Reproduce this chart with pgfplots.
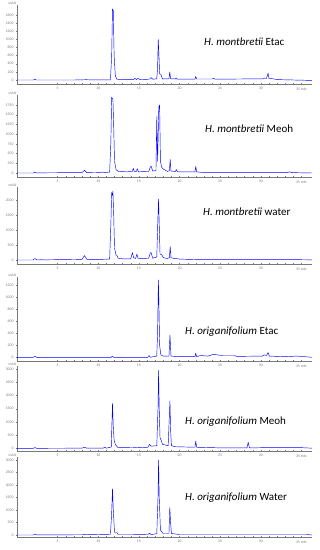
\documentclass[border=0pt]{standalone}
\usepackage{fontspec}
\setmainfont{Carlito}
\usepackage{pgfplots}
\pgfplotsset{compat=1.18}
\definecolor{trace}{RGB}{95,95,225}
\definecolor{axgray}{RGB}{120,120,120}
\pgfplotsset{
  chrom/.style={
    scale only axis, width=295pt, anchor=south west,
    xmin=0, xmax=36.3,
    axis lines=left, axis line style={-, axgray, line width=0.4pt},
    xtick={5,10,15,20,25,30,35},
    xticklabels={5,10,15,20,25,30,35 min},
    minor x tick num=4,
    tick style={axgray, line width=0.3pt},
    major tick length=2pt, minor tick length=1pt,
    tick label style={font=\fontsize{3.8}{4.4}\selectfont, text=axgray},
    xticklabel style={yshift=1pt},
    yticklabel style={xshift=1pt},
    /pgf/number format/assume math mode=true,
    /pgf/number format/1000 sep={},
    clip=false,
    every axis plot/.append style={trace, line width=0.45pt, no markers, line join=round},
  }
}
\newcommand{\mau}{\node[anchor=south east, font=\fontsize{3.8}{4.4}\selectfont, text=axgray, inner sep=0.5pt] at (rel axis cs:0,1) {mAU};}
\begin{document}
\begin{tikzpicture}
\useasboundingbox (0,0) rectangle (320pt,550pt);
% Panel 1
\begin{axis}[chrom, at={(17pt,466pt)}, height=79pt, ymin=-98, ymax=1846,
  ytick={0,200,400,600,800,1000,1200,1400,1600}]
\addplot coordinates {(0,0)(2.0,0)(2.2,20)(2.4,0)(7,0)(8.5,8)(9,5)(11.5,5)(11.65,600)(11.75,1750)(11.85,1700)(11.95,600)(12.1,100)(12.3,20)(13,10)(14.3,10)(14.5,40)(14.7,10)(14.9,50)(15.1,10)(16.3,20)(16.5,60)(16.7,20)(17.2,30)(17.3,300)(17.38,1000)(17.45,700)(17.55,150)(17.7,140)(17.9,30)(18.7,30)(18.8,200)(18.9,30)(19.5,30)(19.6,50)(19.7,20)(21.9,20)(22,90)(22.1,25)(24,25)(24.2,40)(24.4,20)(30.3,30)(30.5,50)(30.7,40)(30.9,170)(31.0,40)(31.5,30)(32,10)(36.3,-10)};
\mau
\end{axis}
% Panel 2
\begin{axis}[chrom, at={(17pt,373pt)}, height=82pt, ymin=-103, ymax=2007,
  ytick={0,250,500,750,1000,1250,1500,1750}]
\addplot coordinates {(0,0)(2.0,0)(2.2,25)(2.4,0)(3,5)(8.0,10)(8.3,70)(8.6,10)(10.3,15)(10.5,25)(10.7,15)(11.4,20)(11.55,800)(11.65,1950)(11.8,1900)(11.9,1200)(12.0,300)(12.2,80)(12.5,40)(13.5,30)(14.2,40)(14.3,120)(14.45,40)(14.7,40)(14.8,110)(14.95,30)(16.2,40)(16.4,150)(16.5,180)(16.7,50)(17.1,60)(17.2,1450)(17.3,300)(17.45,1700)(17.55,1750)(17.65,300)(17.8,150)(18.0,100)(18.2,80)(18.5,40)(18.75,60)(18.85,350)(18.95,50)(19.5,40)(19.6,90)(19.75,30)(21,30)(21.9,30)(22,170)(22.1,30)(23,10)(33.3,10)(33.5,30)(33.8,10)(36.3,0)};
\mau
\end{axis}
% Panel 3
\begin{axis}[chrom, at={(17pt,286pt)}, height=77pt, ymin=-133, ymax=2433,
  ytick={0,500,1000,1500,2000}]
\addplot coordinates {(0,0)(2,0)(2.2,50)(2.4,10)(2.9,5)(3,15)(3.1,5)(8.0,20)(8.3,150)(8.6,20)(10,20)(11.4,30)(11.55,1200)(11.65,2250)(11.75,2150)(11.8,2300)(11.9,1500)(12.0,400)(12.2,150)(12.3,150)(12.45,60)(13,40)(14.0,40)(14.2,250)(14.35,80)(14.6,50)(14.75,200)(14.9,50)(16.2,60)(16.4,230)(16.5,250)(16.7,60)(17.2,100)(17.35,1500)(17.42,2030)(17.5,1200)(17.6,200)(17.8,180)(18.0,80)(18.5,50)(18.75,80)(18.85,450)(18.95,80)(19.5,40)(19.6,50)(20,30)(22,15)(33.5,15)(36.3,5)};
\mau
\end{axis}
% Panel 4
\begin{axis}[chrom, at={(17pt,189pt)}, height=84pt, ymin=-62, ymax=1339,
  ytick={0,200,400,600,800,1000,1200}]
\addplot coordinates {(0,0)(2,0)(2.2,20)(2.4,0)(11.6,0)(11.75,20)(11.9,0)(16.1,0)(16.25,30)(16.4,0)(17.2,20)(17.3,400)(17.4,1290)(17.45,980)(17.55,200)(17.7,40)(18.0,20)(18.7,20)(18.82,370)(18.95,20)(20,10)(21.9,10)(22.0,70)(22.1,10)(22.6,30)(23,25)(23.5,20)(24.2,50)(24.6,40)(25.3,30)(26.8,30)(27,15)(30.2,20)(30.4,40)(30.7,30)(30.9,80)(31.05,20)(33,10)(34.5,20)(36.3,0)};
\mau
\end{axis}
% Panel 5
\begin{axis}[chrom, at={(17pt,99pt)}, height=85pt, ymin=-102, ymax=3119,
  ytick={0,500,1000,1500,2000,2500,3000}]
\addplot coordinates {(0,0)(2,0)(2.2,30)(2.4,0)(8.0,5)(8.3,40)(8.6,5)(10.6,5)(10.8,40)(11.0,5)(11.6,50)(11.75,1700)(11.85,800)(11.95,300)(12.1,150)(12.4,30)(14.3,20)(14.5,50)(14.7,20)(16.1,40)(16.3,150)(16.5,80)(17.2,100)(17.35,1500)(17.42,2950)(17.5,1500)(17.6,400)(17.75,300)(17.9,150)(18.6,100)(18.75,1250)(18.82,1800)(18.9,700)(19.0,100)(19.5,60)(21.9,40)(22.0,280)(22.1,40)(24.6,20)(28.3,15)(28.45,230)(28.6,15)(30.5,25)(35,25)(36.3,5)};
\mau
\end{axis}
% Panel 6
\begin{axis}[chrom, at={(17pt,13pt)}, height=80pt, ymin=-80, ymax=3120,
  ytick={0,500,1000,1500,2000,2500,3000}]
\addplot coordinates {(0,0)(2,0)(2.2,40)(2.4,5)(8.1,10)(8.3,30)(8.5,10)(11.5,30)(11.65,900)(11.75,1850)(11.85,1000)(12.0,100)(12.3,100)(12.45,20)(14.3,20)(14.5,30)(14.7,15)(16.1,20)(16.3,70)(16.5,20)(17.2,50)(17.35,1500)(17.42,3000)(17.5,1500)(17.65,200)(17.8,130)(18.0,60)(18.7,60)(18.8,1100)(18.9,500)(19.0,60)(20,20)(33.5,20)(35.6,20)(36.3,0)};
\mau
\end{axis}
\begin{scope}[every node/.style={anchor=west, font=\fontsize{11}{13}\selectfont, inner sep=0pt}]
\node at (204pt,508pt) {\textit{H. montbretii} Etac};
\node at (205pt,421pt) {\textit{H. montbretii} Meoh};
\node at (203pt,338pt) {\textit{H. montbretii} water};
\node at (185pt,218pt) {\textit{H. origanifolium} Etac};
\node at (185pt,128pt) {\textit{H. origanifolium} Meoh};
\node at (185pt,52pt) {\textit{H. origanifolium} Water};
\end{scope}
\end{tikzpicture}
\end{document}
